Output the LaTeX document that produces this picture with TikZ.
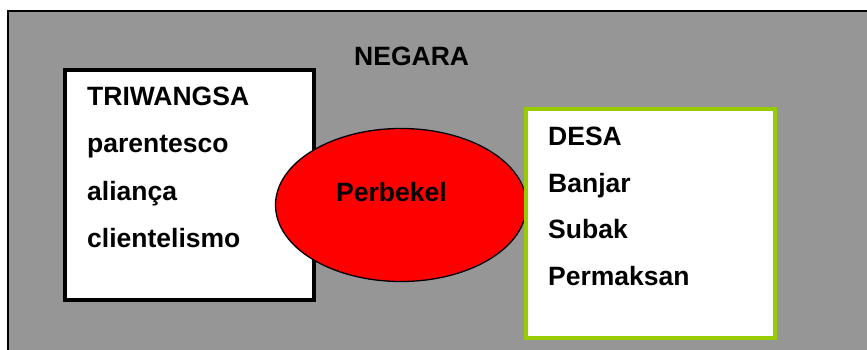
\documentclass[tikz,border=0pt]{standalone}
\usepackage{fontspec}
\setmainfont{Liberation Sans}
\usetikzlibrary{shapes.geometric}
\definecolor{bggray}{RGB}{150,150,150}
\definecolor{limegreen}{RGB}{153,204,0}
\definecolor{pureRed}{RGB}{255,0,0}
\begin{document}
\begin{tikzpicture}[x=1pt,y=-1pt,
  lbl/.style={anchor=base west,inner sep=0pt,font=\fontsize{26.5}{30}\selectfont\bfseries},
  boxA/.style={draw=black,line width=4pt,fill=white,inner sep=0pt},
  boxB/.style={draw=limegreen,line width=4pt,fill=white,inner sep=0pt},
  oval/.style={ellipse,draw=black,line width=1.3pt,fill=pureRed,inner sep=0pt}]
\useasboundingbox (0,0) rectangle (867,350);
\clip (0,0) rectangle (867,350);
\node[draw=black,line width=2pt,fill=bggray,minimum width=870pt,minimum height=348pt,inner sep=0pt,anchor=north west] (negara) at (7,10) {};
\node[lbl] (negaraT) at (354,66) {NEGARA};
\node[boxA,minimum width=249pt,minimum height=230pt] (triw) at (189.5,185) {};
\node[lbl] (t1) at (87,106) {TRIWANGSA};
\node[lbl] (t2) at (87,153) {parentesco};
\node[lbl] (t3) at (87,200) {aliança};
\node[lbl] (t4) at (87,247) {clientelismo};
\node[oval,minimum width=251pt,minimum height=153pt] (perb) at (401,205) {};
\node[lbl] (perbT) at (336,201) {Perbekel};
\node[boxB,minimum width=249pt,minimum height=229pt] (desa) at (650.5,223.5) {};
\node[lbl] (d1) at (548,146) {DESA};
\node[lbl] (d2) at (548,192) {Banjar};
\node[lbl] (d3) at (548,238) {Subak};
\node[lbl] (d4) at (548,285) {Permaksan};
\end{tikzpicture}
\end{document}
